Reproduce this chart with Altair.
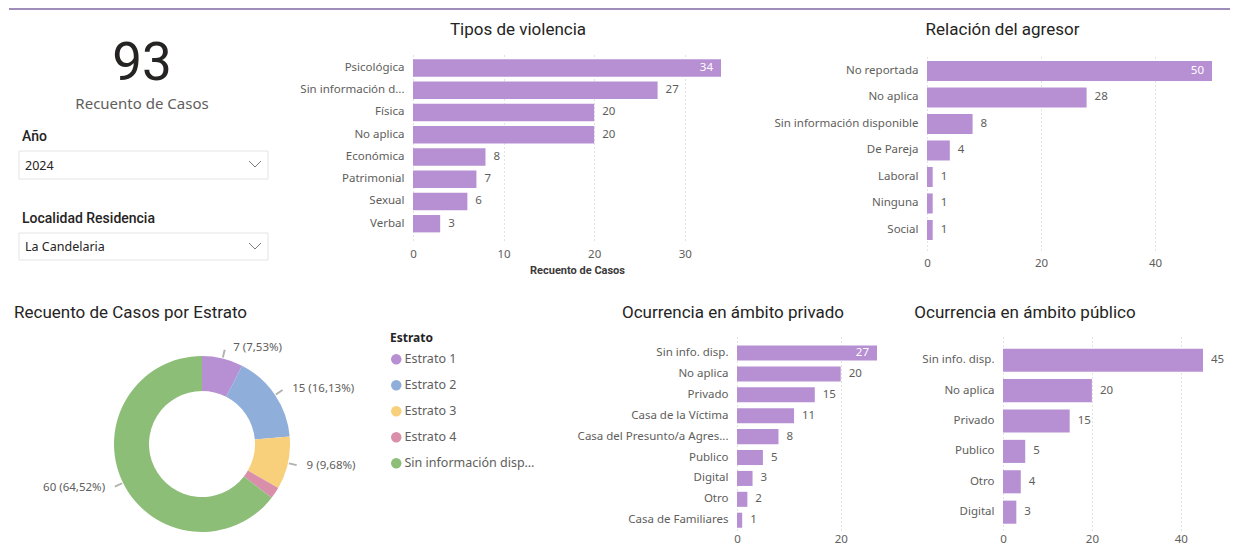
import altair as alt
import pandas as pd

# ------------------------------------------------------------------ data
kpi_value = "93"
kpi_label = "Recuento de Casos"
slicer_titles = ["Año", "Localidad Residencia"]
slicer_values = ["2024", "La Candelaria"]

tipos_cats = ["Psicológica", "Sin información d...", "Física", "No aplica",
              "Económica", "Patrimonial", "Sexual", "Verbal"]
tipos_vals = [34, 27, 20, 20, 8, 7, 6, 3]
tipos_ticks = [0, 10, 20, 30]

rel_cats = ["No reportada", "No aplica", "Sin información disponible",
            "De Pareja", "Laboral", "Ninguna", "Social"]
rel_vals = [50, 28, 8, 4, 1, 1, 1]
rel_ticks = [0, 20, 40]

priv_cats = ["Sin info. disp.", "No aplica", "Privado", "Casa de la Víctima",
             "Casa del Presunto/a Agres...", "Publico", "Digital", "Otro",
             "Casa de Familiares"]
priv_vals = [27, 20, 15, 11, 8, 5, 3, 2, 1]
priv_ticks = [0, 20]

pub_cats = ["Sin info. disp.", "No aplica", "Privado", "Publico", "Otro", "Digital"]
pub_vals = [45, 20, 15, 5, 4, 3]
pub_ticks = [0, 20, 40]

estrato_cats = ["Estrato 1", "Estrato 2", "Estrato 3", "Estrato 4",
                "Sin información disponible"]
estrato_vals = [7, 15, 9, 2, 60]

# ------------------------------------------------------------------ style
PURPLE = "#B78FD3"
PIE_COLORS = ["#B78FD3", "#8FAFDA", "#F8CF7A", "#D98FA9", "#8CBE78"]
DARK = "#252423"
GRAY = "#605E5C"
GRID = "#C8C6C4"
LABEL_FONT = "Noto Sans"
TITLE_FONT = "Roboto"
TS = 17
LS = 11.5

one = pd.DataFrame({"k": [0]})


def txt(text, x, y, size, color=DARK, font=LABEL_FONT, weight="normal", align="left"):
    return alt.Chart(one).mark_text(
        text=text, fontSize=size, color=color, font=font, fontWeight=weight,
        align=align, baseline="middle"
    ).encode(x=alt.value(x), y=alt.value(y))


def seg(x, y, x2, y2, color="#7A7A7A", w=1):
    return alt.Chart(one).mark_rule(color=color, strokeWidth=w).encode(
        x=alt.value(x), y=alt.value(y), x2=alt.value(x2), y2=alt.value(y2))


def box(x, y, x2, y2):
    return alt.Chart(one).mark_rect(fill="white", stroke="#E4E4E4", strokeWidth=1).encode(
        x=alt.value(x), y=alt.value(y), x2=alt.value(x2), y2=alt.value(y2))


# ------------------------------------------------------------------ KPI + slicers
top_line = alt.Chart(one).mark_rule(color="#9E8CBA", strokeWidth=2).encode(
    x=alt.value(1), x2=alt.value(1222), y=alt.value(-45))

kpi = alt.layer(
    top_line,
    txt(kpi_value, 134, 10, 53, DARK, TITLE_FONT, align="center"),
    txt(kpi_label, 134, 50, 15, GRAY, LABEL_FONT, align="center"),
    txt(slicer_titles[0], 14, 83, 14, DARK, TITLE_FONT, weight=500),
    box(11, 97, 260, 125),
    txt(slicer_values[0], 17, 112, 12.5, DARK),
    seg(241, 107, 247, 113), seg(247, 113, 253, 107),
    txt(slicer_titles[1], 14, 165, 14, DARK, TITLE_FONT, weight=500),
    box(11, 179, 260, 206),
    txt(slicer_values[1], 17, 193, 12.5, DARK),
    seg(241, 189, 247, 195), seg(247, 195, 253, 189),
).properties(width=405, height=186)


# ------------------------------------------------------------------ bar panels
def bar_panel(cats, vals, ticks, width, height, pi, po, align, lab_pad,
              title, title_dx, title_offset, inside_max=True, axis_title=None,
              title_x=None):
    df = pd.DataFrame({"cat": cats, "v": vals})
    xaxis = dict(values=ticks, grid=True, gridDash=[1, 3], gridColor=GRID, gridWidth=1,
                 ticks=False, tickSize=0, domain=False, labelPadding=lab_pad,
                 labelFont=LABEL_FONT, labelFontSize=LS, labelColor=GRAY,
                 labelFlush=False)
    if axis_title:
        xaxis.update(title=axis_title, titleFont=TITLE_FONT, titleFontSize=11,
                     titleFontWeight="bold", titleColor="#3B3A39",
                     titleX=title_x, titleY=30.5, titleBaseline="middle")
    else:
        xaxis["title"] = None
    base = alt.Chart(df).encode(
        x=alt.X("v:Q", scale=alt.Scale(domain=[0, max(vals)], nice=False, zero=True),
                axis=alt.Axis(**xaxis)),
        y=alt.Y("cat:N", sort=cats,
                scale=alt.Scale(paddingInner=pi, paddingOuter=po, align=align),
                axis=alt.Axis(title=None, ticks=False, tickSize=0, domain=False,
                              labelPadding=9, labelFont=LABEL_FONT, labelFontSize=LS,
                              labelColor=GRAY, labelLimit=300)),
    )
    bars = base.mark_bar(color=PURPLE)
    lab_base = base.transform_joinaggregate(m="max(v)")
    if inside_max:
        out_base = lab_base.transform_filter("datum.v < datum.m")
    else:
        out_base = lab_base
    out = out_base.mark_text(align="left", baseline="middle", dx=8, font=LABEL_FONT,
                             fontSize=LS, color=GRAY).encode(text="v:Q")
    layers = [bars, out]
    if inside_max:
        inn = lab_base.transform_filter("datum.v >= datum.m").mark_text(
            align="right", baseline="middle", dx=-8, font=LABEL_FONT, fontSize=LS,
            color="white").encode(text="v:Q")
        layers.append(inn)
    return alt.layer(*layers).properties(
        width=width, height=height,
        title=alt.TitleParams(text=title, anchor="middle", frame="group", dx=title_dx,
                              offset=title_offset, font=TITLE_FONT, fontSize=TS,
                              fontWeight="normal", color=DARK))


tipos = bar_panel(tipos_cats, tipos_vals, tipos_ticks, 308, 186, 0.22, 0.29, 0.41, 8,
                  "Tipos de violencia", -49, 15.5, axis_title="Recuento de Casos",
                  title_x=164)
rel = bar_panel(rel_cats, rel_vals, rel_ticks, 285, 196, 0.245, 0.32, 0.41, 7,
                "Relación del agresor", -67, 15.5)
priv = bar_panel(priv_cats, priv_vals, priv_ticks, 140, 193, 0.28, 0.257, 0.79, 3,
                 "Ocurrencia en ámbito privado", -74, 15)
pub = bar_panel(pub_cats, pub_vals, pub_ticks, 200, 193, 0.24, 0.295, 0.65, 3,
                "Ocurrencia en ámbito público", -78, 15, inside_max=False)

# ------------------------------------------------------------------ donut
total = sum(estrato_vals)
pie = pd.DataFrame({"cat": estrato_cats, "v": estrato_vals})
pie["end"] = pie["v"].cumsum()
pie["start"] = pie["end"] - pie["v"]
pie["mid"] = (pie["start"] + pie["end"]) / 2
pie["l0"] = pie["mid"] - 0.15
pie["l1"] = pie["mid"] + 0.15
pie["pct"] = pie["v"] / total * 100
pie["label"] = [f"{v} ({p:.2f}%)".replace(".", ",") for v, p in zip(pie["v"], pie["pct"])]
pie["show"] = pie["pct"] > 3

CX, CY = 194, 107
tscale = alt.Scale(domain=[0, total])

arcs = alt.Chart(pie).mark_arc(innerRadius=53, outerRadius=88).encode(
    theta=alt.Theta("start:Q", scale=tscale, stack=None),
    theta2="end:Q",
    color=alt.Color("cat:N", sort=estrato_cats,
                    scale=alt.Scale(domain=estrato_cats, range=PIE_COLORS),
                    legend=alt.Legend(title="Estrato", orient="none", legendX=382,
                                      legendY=-4, padding=0, titleFont=LABEL_FONT,
                                      titleFontSize=12, titleFontWeight="bold",
                                      titleColor=DARK, titlePadding=8,
                                      labelFont=LABEL_FONT, labelFontSize=12.5,
                                      labelColor=GRAY, labelLimit=134,
                                      symbolType="circle", symbolSize=110,
                                      symbolStrokeWidth=0, rowPadding=13,
                                      labelOffset=2)),
    x=alt.value(CX), y=alt.value(CY),
)
leaders = alt.Chart(pie).transform_filter("datum.show").mark_arc(
    innerRadius=89, outerRadius=97, color="#B3B0AD").encode(
    theta=alt.Theta("l0:Q", scale=tscale, stack=None), theta2="l1:Q",
    x=alt.value(CX), y=alt.value(CY))
lab_right = alt.Chart(pie).transform_filter(f"datum.show && datum.mid < {total / 2}").mark_text(
    radius=99, dx=8, align="left", baseline="middle", font=LABEL_FONT, fontSize=LS,
    color=GRAY).encode(theta=alt.Theta("mid:Q", scale=tscale, stack=None),
                       text="label:N", x=alt.value(CX), y=alt.value(CY))
lab_left = alt.Chart(pie).transform_filter(f"datum.show && datum.mid >= {total / 2}").mark_text(
    radius=99, dx=-8, align="right", baseline="middle", font=LABEL_FONT, fontSize=LS,
    color=GRAY).encode(theta=alt.Theta("mid:Q", scale=tscale, stack=None),
                       text="label:N", x=alt.value(CX), y=alt.value(CY))
edge = seg(0.5, 0, 0.5, 1, color="white")

donut = alt.layer(edge, arcs, leaders, lab_right, lab_left).properties(
    width=729, height=193,
    title=alt.TitleParams(text="Recuento de Casos por Estrato", anchor="start",
                          frame="group", dx=6, offset=11, font=TITLE_FONT,
                          fontSize=TS, fontWeight="normal", color=DARK))


# ------------------------------------------------------------------ layout
def spacer(w, h):
    return alt.Chart(one).mark_rule(color="white", strokeWidth=1).encode(
        x=alt.value(w / 2), y=alt.value(h / 2), x2=alt.value(w / 2 + 1)
    ).properties(width=w, height=h)


row1 = alt.hconcat(kpi, tipos, spacer(206, 186), rel, spacing=0, bounds="flush"
                   ).resolve_scale(x="independent", y="independent")
row2 = alt.hconcat(donut, priv, spacer(126, 1), pub, spacing=0, bounds="flush"
                   ).resolve_scale(x="independent", y="independent", color="independent"
                   ).resolve_legend(color="independent")

chart = alt.vconcat(row1, row2, spacing=28).resolve_scale(
    color="independent").resolve_legend(color="independent").properties(
    padding=0, background="white"
).configure_view(stroke=None)

chart.save("out.html", embed_options={"renderer": "svg", "actions": False})
